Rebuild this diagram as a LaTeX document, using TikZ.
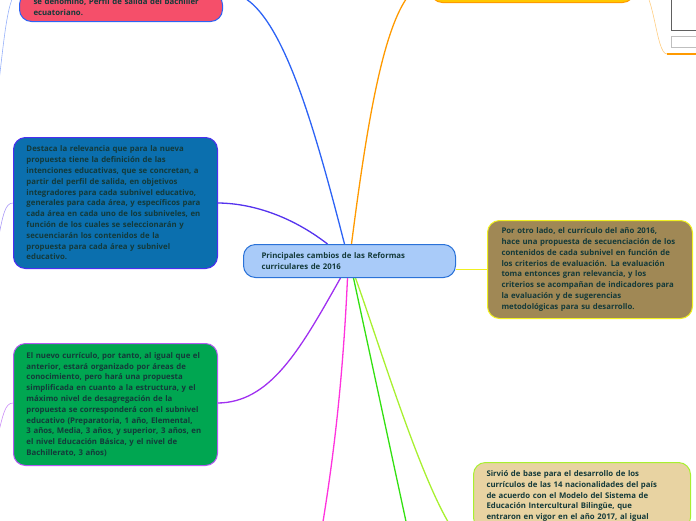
\documentclass[tikz,border=0pt]{standalone}
\usepackage{fontspec}
\setmainfont{Open Sans}
\usetikzlibrary{calc,backgrounds}

\definecolor{txt}{HTML}{143A3A}
\definecolor{centralfill}{HTML}{A9CBF9}
\definecolor{centraldraw}{HTML}{2A72D8}
\definecolor{rojo}{HTML}{F54F6A}
\definecolor{azul}{HTML}{0B6FAE}
\definecolor{verde}{HTML}{00A651}
\definecolor{cafe}{HTML}{A08855}
\definecolor{trigo}{HTML}{E8D3A2}
\definecolor{oro}{HTML}{FFC800}
\definecolor{naranja}{HTML}{FF9A00}
\definecolor{lineaazul}{HTML}{2D63F5}
\definecolor{lineaindigo}{HTML}{5533EE}
\definecolor{lineamorada}{HTML}{A030F0}
\definecolor{lineamagenta}{HTML}{FF33DD}
\definecolor{lineaverde}{HTML}{33E011}
\definecolor{linealima}{HTML}{A8F030}
\definecolor{lineaamarilla}{HTML}{F0F020}

\begin{document}
\begin{tikzpicture}[
  x=1pt, y=-1pt,
  box/.style={
    draw,
    rounded corners=12pt,
    align=left,
    text width=178pt,
    inner xsep=13pt,
    inner ysep=6pt,
    line width=1pt,
    font=\fontsize{7.8}{10.8}\selectfont\bfseries,
    text=txt
  },
  edge/.style={line width=1.3pt},
  thinedge/.style={line width=0.6pt}
]
\useasboundingbox (0,0) rectangle (696,520);
\clip (0,0) rectangle (696,520);

\node[box, anchor=north west, text width=176pt, inner xsep=18pt, minimum height=33pt,
  fill=centralfill, draw=centraldraw] (central) at (243,244)
  {Principales cambios de las Reformas\\curriculares de 2016};

\node[box, anchor=south west, inner xsep=14pt, text width=175pt, fill=rojo, draw=lineaazul] (perfil) at (19,22)
  {se denominó, Perfil de salida del bachiller\\ecuatoriano.};

\node[box, anchor=north west, minimum height=131pt, fill=azul, draw=lineaindigo!90!blue] (intenciones) at (13,137)
  {Destaca la relevancia que para la nueva\\
   propuesta tiene la definición de las\\
   intenciones educativas, que se concretan, a\\
   partir del perfil de salida, en objetivos\\
   integradores para cada subnivel educativo,\\
   generales para cada área, y específicos para\\
   cada área en cada uno de los subniveles, en\\
   función de los cuales se seleccionarán y\\
   secuenciarán los contenidos de la\\
   propuesta para cada área y subnivel\\
   educativo.};

\node[box, anchor=north west, minimum height=122pt, fill=verde, draw=lineamorada!80!white] (curriculo) at (13,343)
  {El nuevo currículo, por tanto, al igual que el\\
   anterior, estará organizado por áreas de\\
   conocimiento, pero hará una propuesta\\
   simplificada en cuanto a la estructura, y el\\
   máximo nivel de desagregación de la\\
   propuesta se corresponderá con el subnivel\\
   educativo (Preparatoria, 1 año, Elemental,\\
   3 años, Media, 3 años, y superior, 3 años, en\\
   el nivel Educación Básica, y el nivel de\\
   Bachillerato, 3 años)};

\node[box, anchor=north west, minimum height=98pt, text width=177pt, inner xsep=14pt,
  fill=cafe, draw=lineaamarilla] (evaluacion) at (487,220)
  {Por otro lado, el currículo del año 2016,\\
   hace una propuesta de secuenciación de los\\
   contenidos de cada subnivel en función de\\
   los criterios de evaluación. La evaluación\\
   toma entonces gran relevancia, y los\\
   criterios se acompañan de indicadores para\\
   la evaluación y de sugerencias\\
   metodológicas para su desarrollo.};

\node[box, anchor=north west, text width=191pt, inner ysep=8pt, fill=trigo, draw=linealima] (intercultural) at (473,462)
  {Sirvió de base para el desarrollo de los\\
   currículos de las 14 nacionalidades del país\\
   de acuerdo con el Modelo del Sistema de\\
   Educación Intercultural Bilingüe, que\\
   entraron en vigor en el año 2017, al igual};

\node[box, anchor=south west, text width=178pt, minimum height=40pt,
  fill=oro, draw=naranja] (metas) at (430,3) {};

% image node, top right
\draw[gray!75!black, fill=white, line width=0.8pt] (671,-5) rectangle (700,30);
\draw[gray!50, fill=white, line width=1pt] (671,36) rectangle (700,47);
\coordinate (imagenes) at (667,54);
\draw[naranja, line width=1.2pt] (imagenes) -- (700,54);

% free ends of branches that leave the picture
\coordinate (fueraA) at (-2,90);
\coordinate (fueraB) at (-2,240);
\coordinate (fueraC) at (-2,435);
\coordinate (fueraD) at (320,540);
\coordinate (fueraE) at (410,540);
\coordinate (fueraF) at (473,548);

\begin{scope}[on background layer]
  \draw[edge, lineaazul] ($(central.north)+(-5,0)$) .. controls (310,110) and (275,-12) .. (perfil.north east);
  \draw[edge, naranja] ($(central.north)+(2,0)$) .. controls (370,100) and (390,-17) .. (metas.west);
  \draw[edge, lineaindigo] ($(central.north)+(-22,0)$) .. controls (290,215) and (250,203) .. (217,203);
  \draw[edge, lineamorada] ($(central.south)+(-9,0)$) .. controls (300,350) and (270,403) .. (217,403);
  \draw[edge, lineamagenta] ($(central.south)+(-2,0)$) .. controls (342,400) and (330,480) .. (fueraD);
  \draw[edge, lineaverde] ($(central.south)+(4,0)$) -- (fueraE);
  \draw[edge, linealima] ($(central.south)+(6,0)$) .. controls (385,360) and (440,545) .. (fueraF);
  \draw[edge, lineaamarilla] (central.east |- evaluacion.west) -- (evaluacion.west);
  \draw[thinedge, lineaazul!50] (perfil.north west) .. controls (8,-10) and (4,40) .. (fueraA);
  \draw[thinedge, lineaindigo!50] (13,203) .. controls (5,203) and (3,215) .. (fueraB);
  \draw[thinedge, lineamorada!55] (13,403) .. controls (5,403) and (3,415) .. (fueraC);
  \draw[thinedge, naranja!50] (metas.east) .. controls (655,-17) and (655,54) .. (imagenes);
\end{scope}
\end{tikzpicture}
\end{document}
